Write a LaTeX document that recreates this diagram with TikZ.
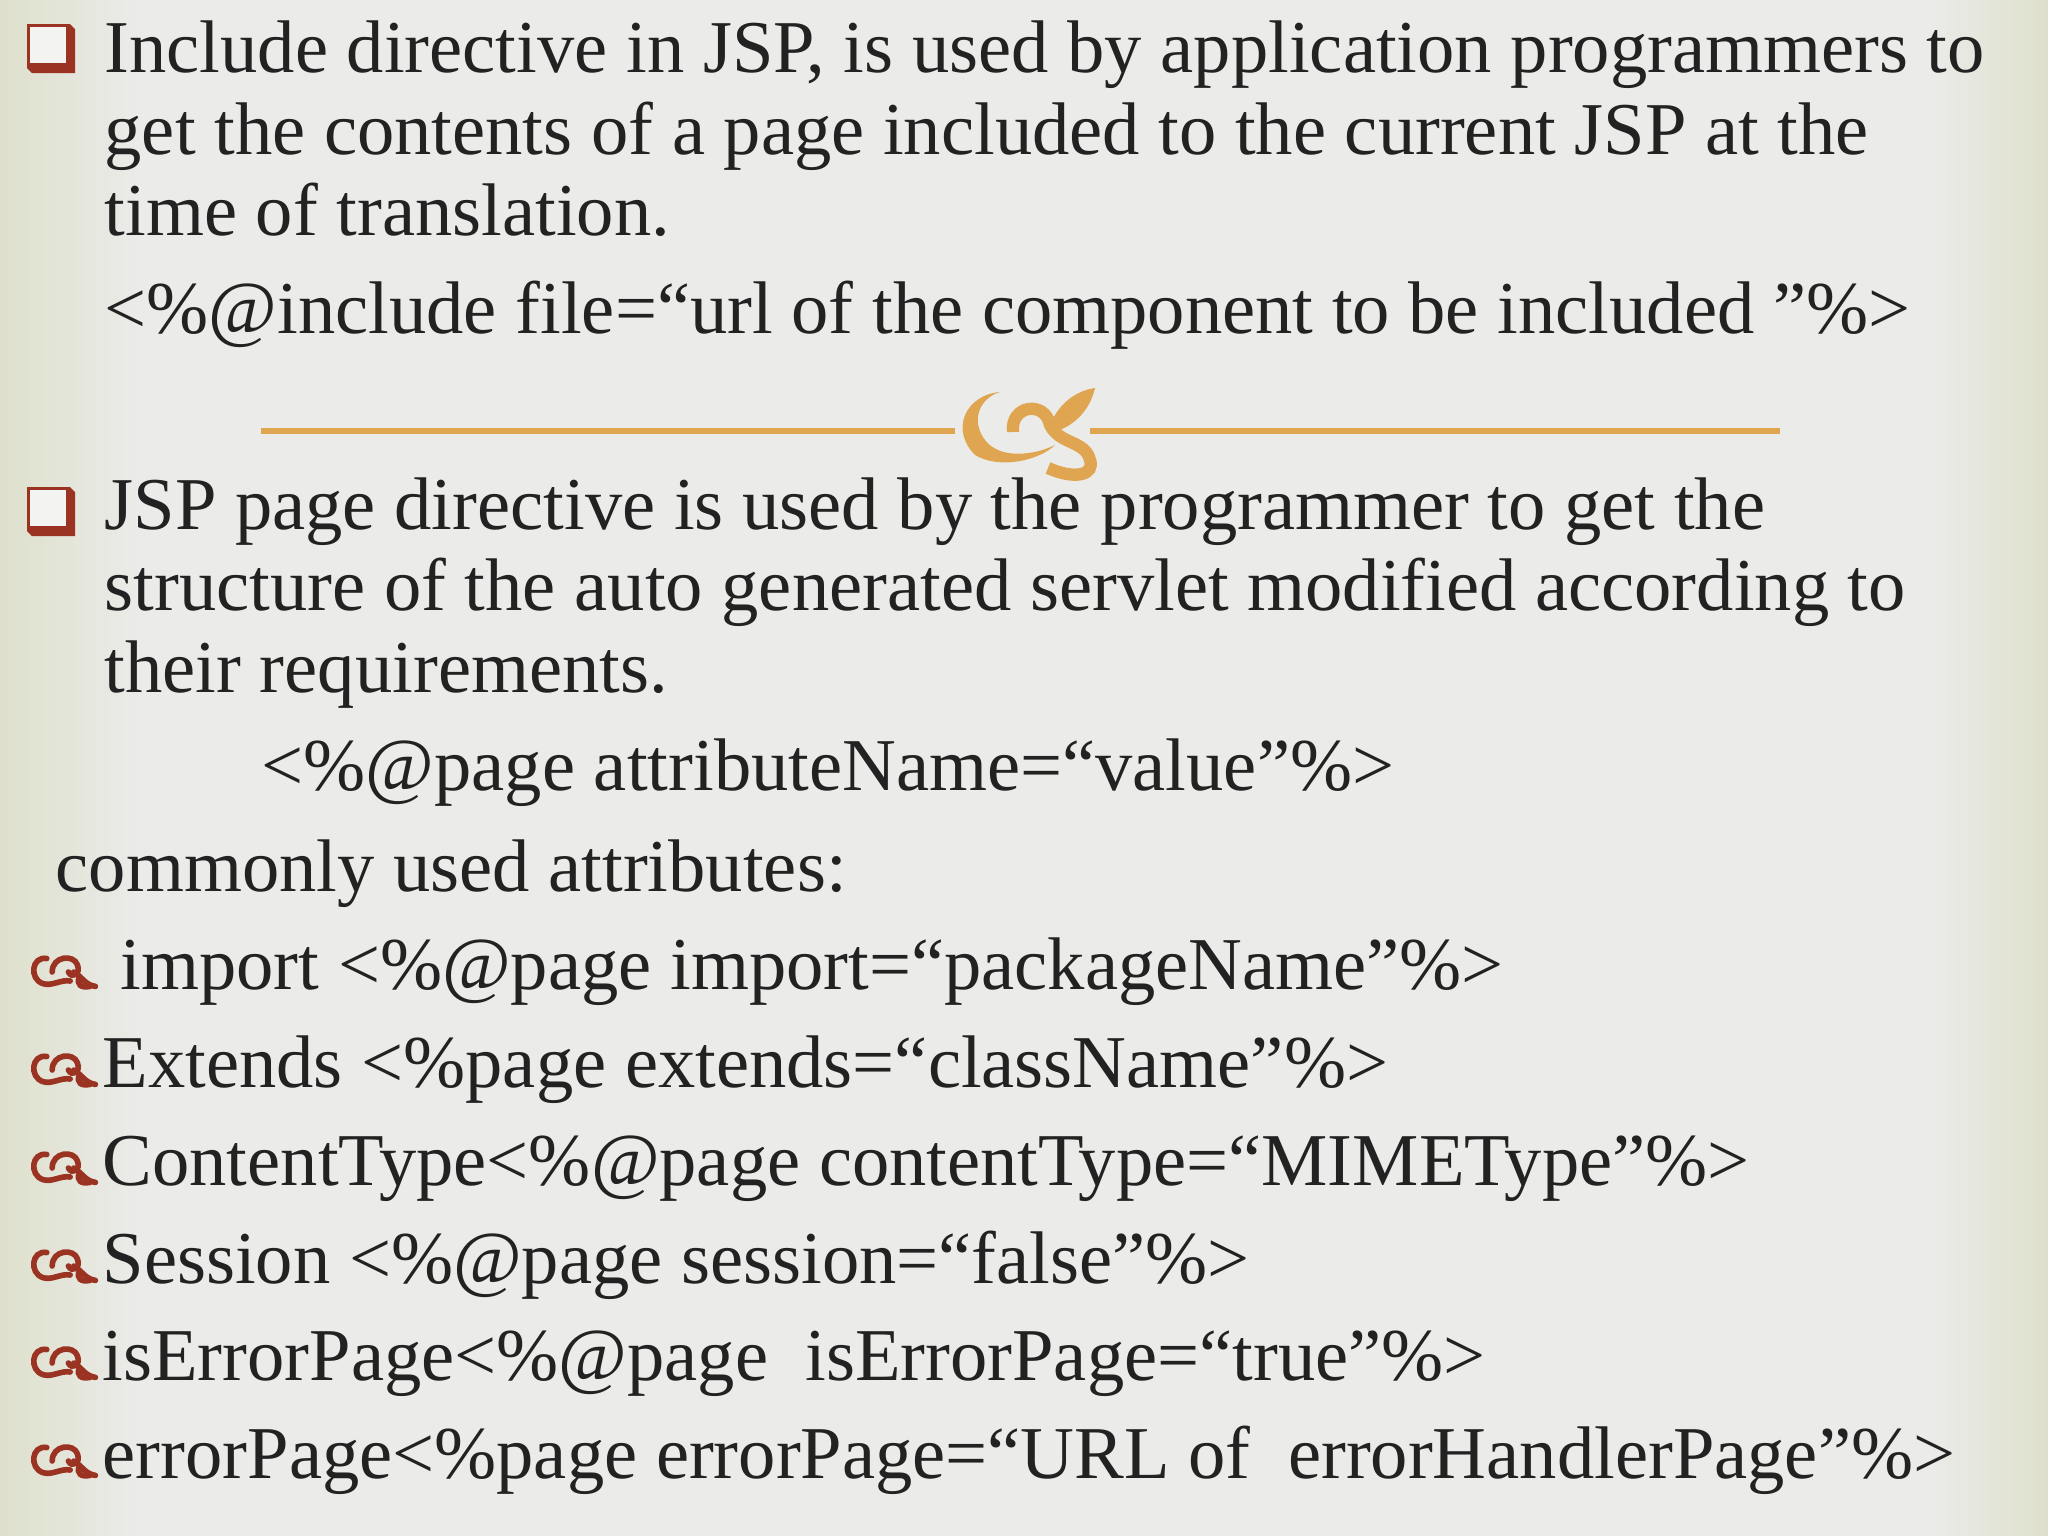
\documentclass[tikz,border=0pt]{standalone}
\usepackage{fontspec}
\setmainfont{Liberation Serif}
\definecolor{bg}{HTML}{EBEBE9}
\definecolor{edge}{HTML}{DEE0CC}
\definecolor{brick}{HTML}{9B3322}
\definecolor{gold}{HTML}{E0A550}
\definecolor{ink}{HTML}{222222}
\begin{document}
\begin{tikzpicture}[x=0.01cm,y=-0.01cm,
  txt/.style={anchor=base west,inner sep=0,font=\fontsize{21.2pt}{24pt}\selectfont,text=ink},
  curl/.style={line width=1.6pt,line cap=round}]
\useasboundingbox (0,0) rectangle (2048,1536);
\fill[bg] (0,0) rectangle (2048,1536);
\shade[left color=edge,right color=bg] (0,0) rectangle (140,1536);
\shade[left color=bg,right color=edge] (1930,0) rectangle (2048,1536);
% square bullets
\foreach \yy/\nm in {24/sqa,487/sqb}{
  \fill[brick] (27,\yy) -- (70,\yy) -- (75,\yy+5) -- (75,\yy+49) -- (32,\yy+49) -- (27,\yy+44) -- cycle;
  \fill[bg!60!white] (30,\yy+3) rectangle (66,\yy+39);
}
\node[txt] (l1) at (104,72) {Include directive in JSP, is used by application programmers to};
\node[txt] (l2) at (104,154) {get the contents of a page included to the current JSP at the};
\node[txt] (l3) at (104,235) {time of translation.};
\node[txt] (l4) at (104,333) {<\%@include file=“url of the component to be included ”\%>};
% ornament
\coordinate (ol) at (261,431);
\coordinate (or) at (1780,431);
\draw[gold,line width=1.5pt] (ol) -- (955,431);
\draw[gold,line width=1.5pt] (1090,431) -- (or);
\begin{scope}[gold]
\fill (1000,392) .. controls (965,395) and (950,430) .. (975,455)
  .. controls (1000,470) and (1040,460) .. (1055,445)
  .. controls (1035,455) and (1000,460) .. (985,440)
  .. controls (970,420) and (980,398) .. (1000,392) -- cycle;
\draw[line width=3.5pt] (1013,432) .. controls (1010,405) and (1045,400) .. (1050,425)
  .. controls (1060,445) and (1085,440) .. (1090,460)
  .. controls (1095,475) and (1075,480) .. (1048,468);
\fill (1050,425) .. controls (1060,400) and (1080,390) .. (1095,388)
  .. controls (1090,410) and (1075,425) .. (1055,432) -- cycle;
\end{scope}
\node[txt] (l5) at (104,529) {JSP page directive is used by the programmer to get the};
\node[txt] (l6) at (104,610) {structure of the auto generated servlet modified according to};
\node[txt] (l7) at (104,692) {their requirements.};
\node[txt] (l8) at (261,790) {<\%@page attributeName=“value”\%>};
\node[txt] (l9) at (55,891) {commonly used attributes:};
% curly bullets
\foreach \yy in {989,1087,1185,1283,1380,1478}{
 \begin{scope}[shift={(27,\yy-44)},brick,scale=0.9]
  \draw[curl] (22,15) .. controls (5,12) and (2,38) .. (18,43) .. controls (28,46) and (38,38) .. (48,40);
  \draw[curl] (28,30) .. controls (28,12) and (52,10) .. (56,22) .. controls (60,32) and (50,38) .. (46,30);
  \draw[curl] (52,30) .. controls (62,36) and (64,44) .. (76,46);
  \draw[curl] (58,36) .. controls (55,44) and (60,48) .. (70,46);
 \end{scope}
}
\node[txt] (i1) at (120,989) {import <\%@page import=“packageName”\%>};
\node[txt] (i2) at (102,1087) {Extends <\%page extends=“className”\%>};
\node[txt] (i3) at (102,1185) {ContentType<\%@page contentType=“MIMEType”\%>};
\node[txt] (i4) at (102,1283) {Session <\%@page session=“false”\%>};
\node[txt] (i5) at (102,1380) {isErrorPage<\%@page\ \ isErrorPage=“true”\%>};
\node[txt] (i6) at (102,1478) {errorPage<\%page errorPage=“URL of\ \ errorHandlerPage”\%>};
\end{tikzpicture}
\end{document}
